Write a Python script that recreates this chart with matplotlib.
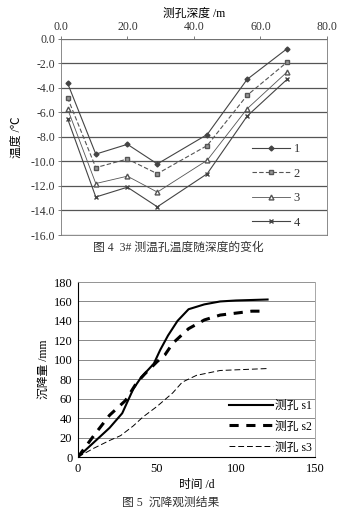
import matplotlib.pyplot as plt

plt.rcParams['font.family'] = ['Liberation Serif', 'Noto Sans CJK SC']
plt.rcParams['axes.unicode_minus'] = False

# figure 4: temperature vs depth
depth = [2, 10.5, 20, 29, 44, 56, 68]
t1 = [-3.6, -9.4, -8.6, -10.2, -7.8, -3.3, -0.8]
t2 = [-4.8, -10.5, -9.8, -11.0, -8.7, -4.6, -1.9]
t3 = [-5.7, -11.8, -11.2, -12.5, -9.9, -5.7, -2.7]
t4 = [-6.5, -12.9, -12.1, -13.7, -11.0, -6.3, -3.3]
temp_labels = ['1', '2', '3', '4']

# figure 5: settlement vs time
s1_t = [0, 10, 20, 28, 35, 40, 48, 52, 57, 63, 70, 80, 90, 100, 120]
s1_v = [0, 15, 30, 45, 70, 82, 96, 110, 125, 140, 152, 157, 160, 161, 162]
s2_t = [0, 10, 20, 30, 37, 42, 50, 55, 60, 70, 80, 90, 100, 110, 115]
s2_v = [0, 22, 43, 58, 76, 85, 98, 105, 117, 132, 141, 146, 148, 150, 150]
s3_t = [0, 10, 20, 27, 35, 41, 50, 60, 66, 75, 90, 105, 120]
s3_v = [0, 9, 17, 22, 32, 41, 52, 66, 77, 84, 89, 90, 91]
s_labels = ['测孔 s1', '测孔 s2', '测孔 s3']

fig = plt.figure(figsize=(3.42, 5.12), dpi=100)

ax1 = fig.add_axes([0.178, 0.541, 0.778, 0.383])
ax1.plot(depth, t1, color='#444444', lw=0.8, ls='-', marker='D', ms=2.5, label=temp_labels[0])
ax1.plot(depth, t2, color='#555555', lw=0.8, ls=(0, (4, 2)), marker='s', ms=3, mfc='#999999', label=temp_labels[1])
ax1.plot(depth, t3, color='#555555', lw=0.6, ls='-', marker='^', ms=3.5, mfc='white', label=temp_labels[2])
ax1.plot(depth, t4, color='#444444', lw=0.8, ls='-', marker='x', ms=3.5, label=temp_labels[3])
ax1.set_xlim(0, 80)
ax1.set_ylim(-16, 0)
ax1.set_xticks([0, 20, 40, 60, 80])
ax1.set_xticklabels(['0.0', '20.0', '40.0', '60.0', '80.0'])
ax1.set_yticks(range(-16, 1, 2))
ax1.set_yticklabels(['%.1f' % v for v in range(-16, 1, 2)])
ax1.xaxis.tick_top()
ax1.xaxis.set_label_position('top')
ax1.set_xlabel('测孔深度 /m', fontsize=8.5, labelpad=3)
ax1.set_ylabel('温度 /℃', fontsize=8.5, labelpad=6)
ax1.tick_params(labelsize=8.5, length=2, width=0.6, color='#666666', pad=2, labelcolor='#333333')
ax1.grid(axis='y', color='#555555', lw=0.9)
for sp in ax1.spines.values():
    sp.set_color('#777777')
    sp.set_linewidth(0.6)
ax1.legend(loc='center right', bbox_to_anchor=(0.94, 0.25), frameon=False, fontsize=9,
           handlelength=3.0, labelspacing=1.0, handletextpad=0.3, labelcolor='#333333')
fig.text(0.52, 0.515, '图 4  3# 测温孔温度随深度的变化', ha='center', va='center', fontsize=8.5, color='#333333')

ax2 = fig.add_axes([0.228, 0.1074, 0.693, 0.3418])
ax2.plot(s1_t, s1_v, color='black', lw=1.5, ls='-', label=s_labels[0])
ax2.plot(s2_t, s2_v, color='black', lw=2.2, ls=(0, (3, 2.5)), label=s_labels[1])
ax2.plot(s3_t, s3_v, color='black', lw=0.7, ls=(0, (6, 3)), label=s_labels[2])
ax2.set_xlim(0, 150)
ax2.set_ylim(0, 180)
ax2.set_xticks([0, 50, 100, 150])
ax2.set_yticks(range(0, 181, 20))
ax2.set_xlabel('时间 /d', fontsize=8.5, labelpad=3)
ax2.set_ylabel('沉降量 /mm', fontsize=8.5, labelpad=3)
ax2.tick_params(labelsize=9, length=0, pad=4)
ax2.grid(axis='y', color='#888888', lw=0.7)
ax2.spines['left'].set_color('black')
ax2.spines['bottom'].set_color('black')
ax2.spines['left'].set_linewidth(0.8)
ax2.spines['bottom'].set_linewidth(0.8)
for side in ['top', 'right']:
    ax2.spines[side].set_color('#999999')
    ax2.spines[side].set_linewidth(0.6)
    ax2.spines[side].set_linestyle((0, (1, 1)))
ax2.legend(loc='lower right', bbox_to_anchor=(1.0, 0.0), frameon=False, fontsize=8.5,
           handlelength=3.8, labelspacing=0.75, handletextpad=0.1, borderpad=0.2, borderaxespad=0.1)
fig.text(0.5, 0.0176, '图 5  沉降观测结果', ha='center', va='center', fontsize=8.5, color='#333333')

fig.savefig('out.png', dpi=100)
